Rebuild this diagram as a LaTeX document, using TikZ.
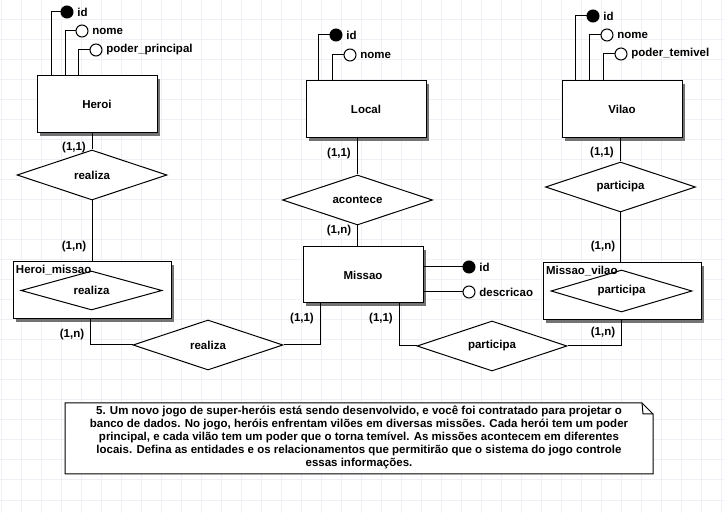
\documentclass[tikz,border=0pt]{standalone}
\usepackage{fontspec}
\setmainfont{Liberation Sans}
\usetikzlibrary{shapes.geometric,shadows}
\definecolor{gridc}{HTML}{EDF1F5}
\tikzset{
	every node/.style={font=\bfseries\fontsize{11.5}{13}\selectfont},
	ent/.style={draw,fill=white,minimum width=120pt,minimum height=57pt,
		drop shadow={shadow xshift=3pt,shadow yshift=-3pt,fill=black!55,opacity=1}},
	rel/.style={draw,fill=white,diamond,aspect=3,minimum width=150pt,minimum height=50pt,inner sep=0pt},
	pk/.style={circle,draw,fill=black,minimum size=12pt,inner sep=0pt},
	att/.style={circle,draw,fill=white,minimum size=12pt,inner sep=0pt},
	card/.style={inner sep=0pt},
	gridline/.style={draw=gridc,line width=1pt},
}
\begin{document}
\begin{tikzpicture}[x=1pt,y=-1pt,line width=1pt]
			\useasboundingbox (0,0) rectangle (724,513);
			\fill[white] (0,0) rectangle (724,513);
			\foreach \gx in {1,21,...,721} \draw[gridline] (\gx,0) -- (\gx,513);
			\foreach \gy in {0,20,...,500} \draw[gridline] (0,\gy) -- (724,\gy);
			
			\node[ent] (heroi) at (97,104.5) {Heroi};
			\node[ent] (local) at (366,109.5) {Local};
			\node[ent] (vilao) at (622,109.5) {Vilao};
			\node[ent,minimum height=56pt] (missao) at (363,275) {Missao};
			\node[ent,minimum width=158pt] (hm) at (92,290.5) {};
			\node[ent,minimum width=158pt] (mv) at (622,291.5) {};
			
			\node[pk,label={right:id}] (hid) at (67,12) {};
			\node[att,label={right:nome}] (hnome) at (82,31) {};
			\node[att,label={right:poder\_principal}] (hpoder) at (96,50) {};
			\draw (hid.west) -| ([xshift=15pt]heroi.north west);
			\draw (hnome.west) -| ([xshift=29pt]heroi.north west);
			\draw (hpoder.west) -| ([xshift=42pt]heroi.north west);
			
			\node[pk,label={right:id}] (lid) at (336,35) {};
			\node[att,label={right:nome}] (lnome) at (350,55) {};
			\draw (lid.west) -| ([xshift=13pt]local.north west);
			\draw (lnome.west) -| ([xshift=27pt]local.north west);
			
			\node[pk,label={right:id}] (vid) at (593,16) {};
			\node[att,label={right:nome}] (vnome) at (607,35) {};
			\node[att,label={right:poder\_temivel}] (vpoder) at (621,54) {};
			\draw (vid.west) -| ([xshift=14pt]vilao.north west);
			\draw (vnome.west) -| ([xshift=28pt]vilao.north west);
			\draw (vpoder.west) -| ([xshift=42pt]vilao.north west);
			
			\node[pk,label={right:id}] (mid) at (469,267) {};
			\node[att,label={right:descricao}] (mdesc) at (469,292) {};
			\draw (mid.west) -- (mid.west -| missao.east);
			\draw (mdesc.west) -- (mdesc.west -| missao.east);
			
			\node[rel] (hrel) at (92,175) {realiza};
			\node[rel] (arel) at (357.5,200) {acontece};
			\node[rel] (vrel) at (620.5,187) {participa};
			\node[rel] (brel) at (208,345) {realiza};
			\node[rel] (prel) at (492,346) {participa};
			\node[rel,minimum width=141pt,minimum height=39pt] (hmrel) at (91.5,290.5) {realiza};
			\node[rel,minimum width=141pt,minimum height=42pt] (mvrel) at (621.5,291) {participa};
			\node[anchor=north west,inner sep=0pt] (hmtit) at ([shift={(3pt,-3pt)}]hm.north west) {Heroi\_missao};
			\node[anchor=north west,inner sep=0pt] (mvtit) at ([shift={(3pt,-3pt)}]mv.north west) {Missao\_vilao};
			
			\draw (hrel.north |- heroi.south) -- (hrel.north);
			\draw (hrel.south) -- (hrel.south |- hm.north);
			\draw ([xshift=-2pt]hm.south) |- (brel.west);
			\draw (brel.east) -| ([xshift=18pt]missao.south west);
			\draw (arel.north |- local.south) -- (arel.north);
			\draw (arel.south) -- (arel.south |- missao.north);
			\draw ([xshift=97pt]missao.south west) |- (prel.west);
			\draw (prel.east) -| ([xshift=-1pt]mv.south);
			\draw (vrel.north |- vilao.south) -- (vrel.north);
			\draw (vrel.south) -- (vrel.south |- mv.north);
			
			\node[card] (c1) at (74,148) {(1,1)};
			\node[card] (c2) at (74,247) {(1,n)};
			\node[card] (c3) at (72,335) {(1,n)};
			\node[card] (c4) at (302,319) {(1,1)};
			\node[card] (c5) at (339,154) {(1,1)};
			\node[card] (c6) at (339,231) {(1,n)};
			\node[card] (c7) at (381,319) {(1,1)};
			\node[card] (c8) at (602,153) {(1,1)};
			\node[card] (c9) at (603,247) {(1,n)};
			\node[card] (c10) at (603,333) {(1,n)};
			
			\draw[fill=white] (65,403) -- (642,403) -- (653,414) -- (653,474) -- (65,474) -- cycle;
			\draw (642,403) -- (643,414) -- (653,414);
			\node[align=center,inner sep=0pt] (enunc) at (359,437.5) {5. Um novo jogo de super-heróis está sendo desenvolvido, e você foi contratado para projetar o\\
				banco de dados. No jogo, heróis enfrentam vilões em diversas missões. Cada herói tem um poder\\
				principal, e cada vilão tem um poder que o torna temível. As missões acontecem em diferentes\\
				locais. Defina as entidades e os relacionamentos que permitirão que o sistema do jogo controle\\
				essas informações.};
\end{tikzpicture}
\end{document}
